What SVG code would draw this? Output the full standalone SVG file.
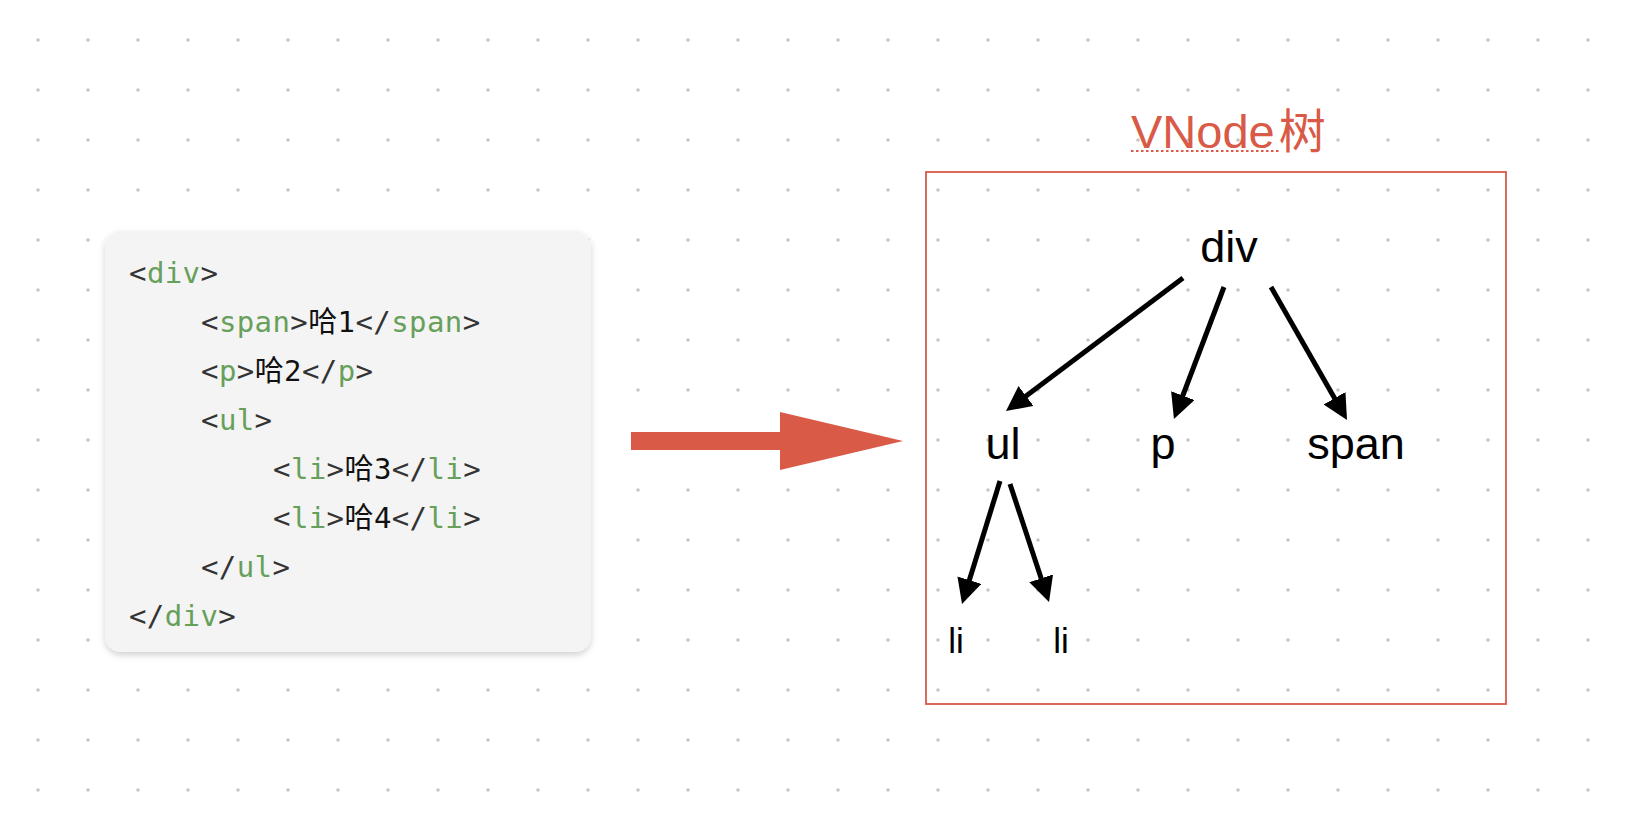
<svg xmlns="http://www.w3.org/2000/svg" width="1628" height="822" viewBox="0 0 1628 822">
<style>
.code{font-family:"DejaVu Sans Mono","Noto Sans CJK SC",monospace;font-size:29px;letter-spacing:0.4px;fill:#333}
.g{fill:#67a05a}
.k{fill:#111}
.node{font-family:"Liberation Sans",Arial,"Noto Sans CJK SC",sans-serif;fill:#000;text-anchor:middle}
.edge{stroke:#000;stroke-width:5;fill:none;marker-end:url(#ah)}
</style>
<defs>
<pattern id="dots" patternUnits="userSpaceOnUse" x="0" y="0" width="50" height="50">
<circle cx="38" cy="40" r="1.8" fill="#c6c6c6"/>
</pattern>
<filter id="sh" x="-10%" y="-10%" width="120%" height="120%">
<feDropShadow dx="0" dy="3" stdDeviation="3" flood-color="#000" flood-opacity="0.18"/>
</filter>
<marker id="ah" markerUnits="userSpaceOnUse" markerWidth="25" markerHeight="25" refX="2" refY="12.5" orient="auto">
<path d="M0,0 L25,12.5 L0,25 z" fill="#000"/>
</marker>
</defs>
<rect width="1628" height="822" fill="#fff"/>
<rect width="1628" height="822" fill="url(#dots)"/>

<g id="code-block">
<rect x="105" y="231" width="486" height="421" rx="16" fill="#f4f4f4" filter="url(#sh)"/>
<text class="code" x="129" y="283">&lt;<tspan class="g">div</tspan>&gt;</text>
<text class="code" x="201" y="332">&lt;<tspan class="g">span</tspan>&gt;<tspan class="k">哈1</tspan>&lt;/<tspan class="g">span</tspan>&gt;</text>
<text class="code" x="201" y="381">&lt;<tspan class="g">p</tspan>&gt;<tspan class="k">哈2</tspan>&lt;/<tspan class="g">p</tspan>&gt;</text>
<text class="code" x="201" y="430">&lt;<tspan class="g">ul</tspan>&gt;</text>
<text class="code" x="273" y="479">&lt;<tspan class="g">li</tspan>&gt;<tspan class="k">哈3</tspan>&lt;/<tspan class="g">li</tspan>&gt;</text>
<text class="code" x="273" y="528">&lt;<tspan class="g">li</tspan>&gt;<tspan class="k">哈4</tspan>&lt;/<tspan class="g">li</tspan>&gt;</text>
<text class="code" x="201" y="577">&lt;/<tspan class="g">ul</tspan>&gt;</text>
<text class="code" x="129" y="626">&lt;/<tspan class="g">div</tspan>&gt;</text>
</g>

<g id="big-arrow">
<polygon points="631,432 780,432 780,412 903,441 780,470 780,450 631,450" fill="#d95a46"/>
</g>

<g id="vnode-tree">
<rect x="926" y="172" width="580" height="532" fill="none" stroke="#d95a46" stroke-width="1.8"/>
<text x="1131" y="148" font-family="'Liberation Sans',Arial,'Noto Sans CJK SC',sans-serif" font-size="47" fill="#d95a46">VNode<tspan dx="4">树</tspan></text>
<line x1="1131" y1="151" x2="1280" y2="151" stroke="#d95a46" stroke-width="2" stroke-dasharray="2.5,2.5"/>
</g>

<g id="node-div"><text class="node" x="1229" y="262" font-size="45">div</text></g>
<g id="node-ul"><text class="node" x="1003" y="459" font-size="45">ul</text></g>
<g id="node-p"><text class="node" x="1163" y="459" font-size="45">p</text></g>
<g id="node-span"><text class="node" x="1356" y="459" font-size="45">span</text></g>
<g id="node-li1"><text class="node" x="956" y="653" font-size="35">li</text></g>
<g id="node-li2"><text class="node" x="1061" y="653" font-size="35">li</text></g>

<g id="connectors">
<line class="edge" x1="1183" y1="278" x2="1024.4" y2="397.2"/>
<line class="edge" x1="1224" y1="287" x2="1182.1" y2="397.5"/>
<line class="edge" x1="1271" y1="287" x2="1335.6" y2="400"/>
<line class="edge" x1="1000" y1="481" x2="968.8" y2="582"/>
<line class="edge" x1="1010" y1="484" x2="1041.8" y2="580.2"/>
</g>
</svg>
